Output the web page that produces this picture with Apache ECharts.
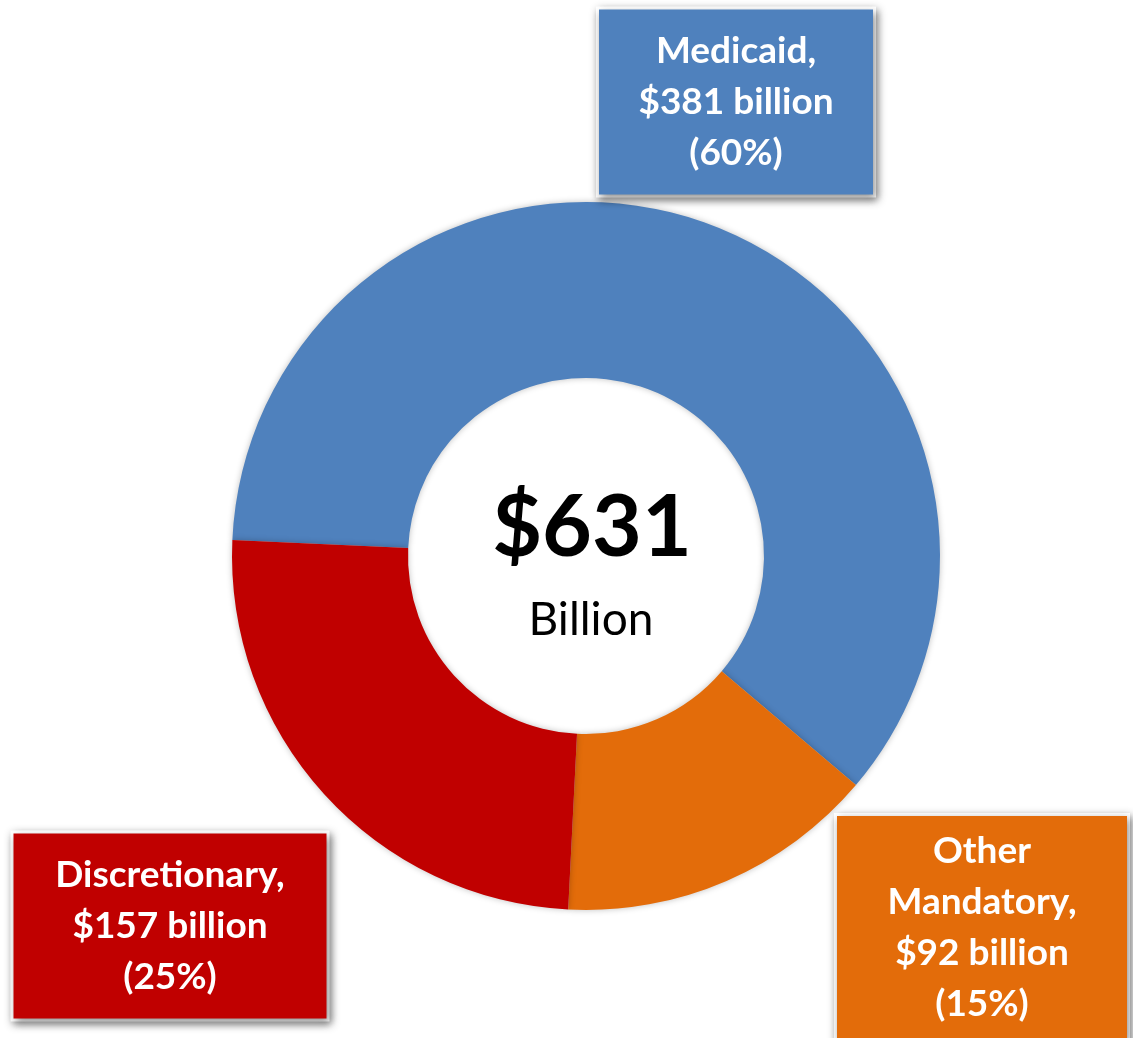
<!DOCTYPE html>
<html>
<head>
<meta charset="utf-8">
<script src="https://cdn.jsdelivr.net/npm/echarts@6/dist/echarts.min.js"></script>
<style>
  html, body { margin: 0; padding: 0; background: #fff; }
  #chart { width: 1133px; height: 1038px; }
</style>
</head>
<body>
<div id="chart"></div>
<script>
// spending categories (display names carry their own line breaks)
const categories = ['Medicaid', 'Other\nMandatory', 'Discretionary'];
const values = [381, 92, 157];
const colors = ['#4F81BD', '#E36C0A', '#C00000'];
const totalText = '$631';
const unitText = 'Billion';

// where each label box sits and how big it is
const boxes = [
    { x: 736, y: 102, w: 274, pad: [16, 0, 16, 0] },
    { x: 982, y: 928, w: 290, pad: [10, 0, 10, 0] },
    { x: 170, y: 926, w: 313, pad: [16, 0, 16, 0] }
];

let chart = echarts.init(document.getElementById('chart'));

let data = categories.map((name, idx) => {
    let b = boxes[idx];
    return {
        name: name,
        value: values[idx],
        itemStyle: { color: colors[idx] },
        label: {
            backgroundColor: colors[idx],
            width: b.w,
            padding: b.pad
        }
    };
});

let option = {
    animation: false,
    series: [{
        type: 'pie',
        center: [586, 556],
        radius: [178, 354],
        startAngle: 177.4,
        clockwise: true,
        percentPrecision: 0,
        data: data,
        itemStyle: {
            shadowBlur: 6,
            shadowColor: 'rgba(0, 0, 0, 0.25)'
        },
        labelLine: { show: false },
        label: {
            show: true,
            position: 'outside',
            color: '#fff',
            fontFamily: 'Lato',
            fontWeight: 'bold',
            fontSize: 37,
            lineHeight: 51,
            align: 'center',
            borderColor: '#fff',
            borderWidth: 3,
            shadowBlur: 8,
            shadowColor: 'rgba(0, 0, 0, 0.45)',
            shadowOffsetX: 2,
            shadowOffsetY: 3,
            formatter: function(params) {
                return params.name + ',\n$' + params.value + ' billion\n(' + params.percent + '%)';
            }
        },
        labelLayout: function(params) {
            let b = boxes[params.dataIndex];
            return {
                x: b.x,
                y: b.y,
                align: 'center',
                verticalAlign: 'middle'
            };
        }
    }],
    graphic: [
        {
            type: 'text',
            style: {
                text: totalText,
                font: 'bold 86px Lato',
                fill: '#000',
                textAlign: 'center',
                textVerticalAlign: 'middle'
            },
            x: 592,
            y: 528
        },
        {
            type: 'text',
            style: {
                text: unitText,
                font: '46px Lato',
                fill: '#000',
                textAlign: 'center',
                textVerticalAlign: 'middle'
            },
            x: 591,
            y: 620
        }
    ]
};

chart.setOption(option, true);
window.onresize = () => {
    chart.resize();
};
</script>
</body>
</html>
